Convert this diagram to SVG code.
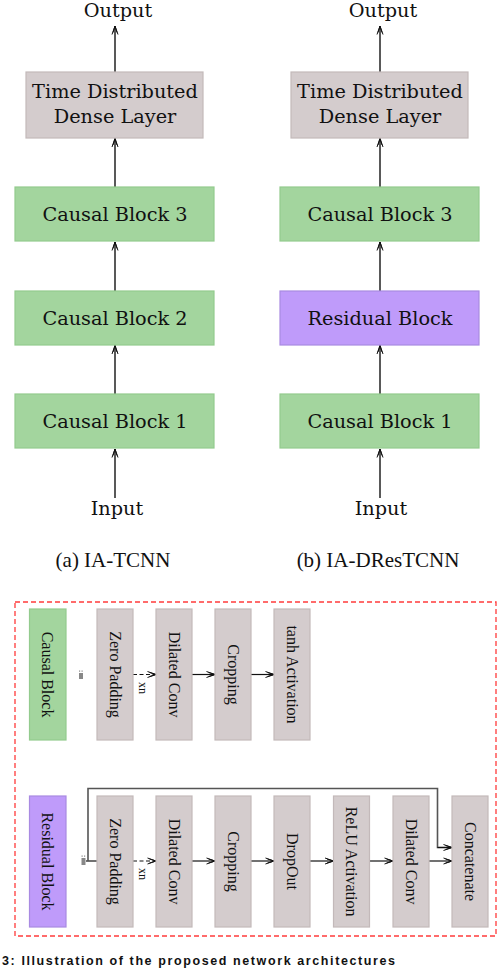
<svg xmlns="http://www.w3.org/2000/svg" width="498" height="970" viewBox="0 0 498 970">
<style>
.lbl{font-family:"DejaVu Serif","Liberation Serif",serif;font-size:19.3px;fill:#111;text-anchor:middle}
.cap{font-family:"Liberation Serif",serif;font-size:21px;fill:#111;text-anchor:middle}
.vt{font-family:"Liberation Serif",serif;font-size:16px;fill:#111;text-anchor:middle;dominant-baseline:central}
.sm{font-family:"Liberation Serif",serif;font-size:12px;fill:#111;text-anchor:middle;dominant-baseline:central}
.green{fill:#a3d59e;stroke:#93cb8e;stroke-width:1.2}
.gray{fill:#d4cccd;stroke:#c3b9ba;stroke-width:1.2}
.purple{fill:#bf9bfa;stroke:#a98ae2;stroke-width:1.2}
.ar{stroke:#222;stroke-width:1.5;fill:none;marker-end:url(#ah)}
.arh{stroke:#111;stroke-width:1.2;fill:none;marker-end:url(#ah)}
.dash{stroke-dasharray:4,2.5}
.skip{stroke:#555;stroke-width:1.6;fill:none}
</style>
<defs>
<marker id="ah" markerWidth="10" markerHeight="8" refX="9" refY="4" orient="auto" markerUnits="userSpaceOnUse">
<path d="M0.5,1 L9,4 L0.5,7 M2.5,2 L9,4 L2.5,6" fill="none" stroke="#111" stroke-width="1"/>
</marker>
</defs>

<g id="connectors">
<line class="ar" x1="115" y1="498" x2="115" y2="449"/>
<line class="ar" x1="115" y1="394" x2="115" y2="345.5"/>
<line class="ar" x1="115" y1="291" x2="115" y2="242"/>
<line class="ar" x1="115" y1="187" x2="115" y2="138.5"/>
<line class="ar" x1="115" y1="72" x2="115" y2="26"/>
<line class="ar" x1="380" y1="498" x2="380" y2="449"/>
<line class="ar" x1="380" y1="394" x2="380" y2="345.5"/>
<line class="ar" x1="380" y1="291" x2="380" y2="242"/>
<line class="ar" x1="380" y1="187" x2="380" y2="138.5"/>
<line class="ar" x1="380" y1="72" x2="380" y2="26"/>

<line class="arh dash" x1="133" y1="674.5" x2="156" y2="674.5"/>
<line class="arh" x1="192" y1="674.5" x2="215" y2="674.5"/>
<line class="arh" x1="251" y1="674.5" x2="274" y2="674.5"/>

<line class="arh" x1="86" y1="861" x2="97" y2="861" style="marker-end:none"/>
<line class="arh dash" x1="133" y1="861" x2="156" y2="861"/>
<line class="arh" x1="192" y1="861" x2="215" y2="861"/>
<line class="arh" x1="251" y1="861" x2="274" y2="861"/>
<line class="arh" x1="310" y1="861" x2="333.5" y2="861"/>
<line class="arh" x1="369.5" y1="861" x2="393" y2="861"/>
<line class="arh" x1="428.5" y1="861" x2="452" y2="861"/>
<polyline class="skip" points="88,861 88,788.5 437.5,788.5 437.5,847.5 448,847.5"/>
<line class="arh" x1="437.5" y1="847.5" x2="452" y2="847.5"/>
</g>

<g id="output-a"><text class="lbl" x="118" y="17">Output</text></g>
<g id="tdd-a"><rect class="gray" x="26" y="72" width="177" height="66"/>
<text class="lbl" x="115" y="98">Time Distributed</text><text class="lbl" x="115" y="123">Dense Layer</text></g>
<g id="cb3-a"><rect class="green" x="15" y="187" width="199" height="54"/><text class="lbl" x="115" y="221">Causal Block 3</text></g>
<g id="cb2-a"><rect class="green" x="15" y="291" width="199" height="54"/><text class="lbl" x="115" y="325">Causal Block 2</text></g>
<g id="cb1-a"><rect class="green" x="15" y="394" width="199" height="54"/><text class="lbl" x="115" y="428">Causal Block 1</text></g>
<g id="input-a"><text class="lbl" x="117" y="515">Input</text></g>
<g id="caption-a"><text class="cap" x="113" y="567">(a) IA-TCNN</text></g>

<g id="output-b"><text class="lbl" x="383" y="17">Output</text></g>
<g id="tdd-b"><rect class="gray" x="291" y="72" width="177" height="66"/>
<text class="lbl" x="380" y="98">Time Distributed</text><text class="lbl" x="380" y="123">Dense Layer</text></g>
<g id="cb3-b"><rect class="green" x="280" y="187" width="199" height="54"/><text class="lbl" x="380" y="221">Causal Block 3</text></g>
<g id="res-b"><rect class="purple" x="280" y="291" width="199" height="54"/><text class="lbl" x="380" y="325">Residual Block</text></g>
<g id="cb1-b"><rect class="green" x="280" y="394" width="199" height="54"/><text class="lbl" x="380" y="428">Causal Block 1</text></g>
<g id="input-b"><text class="lbl" x="381" y="515">Input</text></g>
<g id="caption-b"><text class="cap" x="378" y="567">(b) IA-DResTCNN</text></g>

<g id="legend-frame"><rect x="15" y="602" width="481" height="334" fill="none" stroke="#ff3b3b" stroke-width="1.3" stroke-dasharray="5,3"/></g>

<g id="causal-block"><rect class="green" x="29.5" y="609" width="36.5" height="131"/><text class="vt" transform="translate(47.7,674.5) rotate(90)">Causal Block</text></g>
<g id="split-1"><rect x="79" y="673" width="4" height="6" fill="#888"/><rect x="79" y="670.5" width="1.2" height="1.2" fill="#888"/><rect x="81.5" y="670.5" width="1.2" height="1.2" fill="#888"/></g>
<g id="zp-1"><rect class="gray" x="97" y="609" width="36" height="131"/><text class="vt" transform="translate(115,674.5) rotate(90)">Zero Padding</text></g>
<g id="xn-1"><text class="sm" transform="translate(143,688) rotate(90)">xn</text></g>
<g id="dc-1"><rect class="gray" x="156" y="609" width="36" height="131"/><text class="vt" transform="translate(174,674.5) rotate(90)">Dilated Conv</text></g>
<g id="crop-1"><rect class="gray" x="215" y="609" width="36" height="131"/><text class="vt" transform="translate(233,674.5) rotate(90)">Cropping</text></g>
<g id="tanh-1"><rect class="gray" x="274" y="609" width="36" height="131"/><text class="vt" transform="translate(292,674.5) rotate(90)">tanh Activation</text></g>

<g id="residual-block"><rect class="purple" x="29.5" y="796" width="36.5" height="131"/><text class="vt" transform="translate(47.7,861.5) rotate(90)">Residual Block</text></g>
<g id="split-2"><rect x="81.5" y="858" width="4" height="7" fill="#888"/><rect x="81.5" y="855.5" width="1.2" height="1.2" fill="#888"/><rect x="84" y="855.5" width="1.2" height="1.2" fill="#888"/></g>
<g id="zp-2"><rect class="gray" x="97" y="796" width="36" height="131"/><text class="vt" transform="translate(115,861.5) rotate(90)">Zero Padding</text></g>
<g id="xn-2"><text class="sm" transform="translate(143,874) rotate(90)">xn</text></g>
<g id="dc-2"><rect class="gray" x="156" y="796" width="36" height="131"/><text class="vt" transform="translate(174,861.5) rotate(90)">Dilated Conv</text></g>
<g id="crop-2"><rect class="gray" x="215" y="796" width="36" height="131"/><text class="vt" transform="translate(233,861.5) rotate(90)">Cropping</text></g>
<g id="drop-2"><rect class="gray" x="274" y="796" width="36" height="131"/><text class="vt" transform="translate(292,861.5) rotate(90)">DropOut</text></g>
<g id="relu-2"><rect class="gray" x="333.5" y="796" width="36" height="131"/><text class="vt" transform="translate(351.5,861.5) rotate(90)">ReLU Activation</text></g>
<g id="dc2-2"><rect class="gray" x="393" y="796" width="36" height="131"/><text class="vt" transform="translate(411,861.5) rotate(90)">Dilated Conv</text></g>
<g id="concat-2"><rect class="gray" x="452" y="796" width="36" height="131"/><text class="vt" transform="translate(470,861.5) rotate(90)">Concatenate</text></g>

<g id="figure-caption"><text x="2" y="965" font-family="Liberation Sans,sans-serif" font-weight="bold" font-size="12.5" letter-spacing="1.6" fill="#111">3: Illustration of the proposed network architectures</text></g>
</svg>
